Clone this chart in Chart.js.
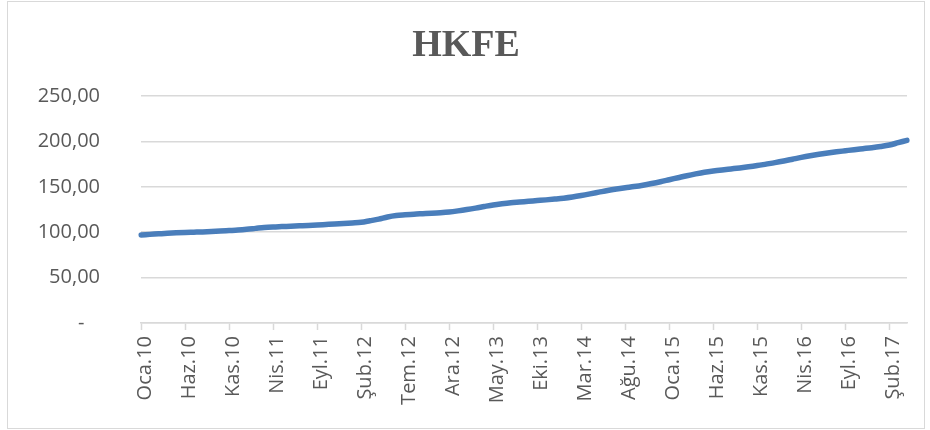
<!DOCTYPE html>
<html lang="tr">
<head>
<meta charset="UTF-8" />
<title>HKFE</title>
<style>
  body {
    margin: 0;
    background: #ffffff;
  }
  .wrap {
    position: relative;
    width: 930px;
    height: 430px;
  }
  .frame {
    position: absolute;
    left: 7px;
    top: 1px;
    width: 916px;
    height: 426px;
    border: 1px solid #d9d9d9;
    pointer-events: none;
  }
  .title {
    position: absolute;
    left: 7px;
    width: 918px;
    top: 24px;
    text-align: center;
    font-family: 'Liberation Serif', 'Times New Roman', serif;
    font-weight: bold;
    font-size: 38px;
    line-height: 1;
    color: #595959;
  }
  canvas {
    position: absolute;
    left: 0;
    top: 0;
  }
</style>
</head>
<body>

<div class="wrap">
  <canvas id="hkfe" width="930" height="430"></canvas>
  <div class="title">HKFE</div>
  <div class="frame"></div>
</div>

<script src="https://cdn.jsdelivr.net/npm/chart.js"></script>
<script>
  // monthly categories, Oca.10 .. Nis.17
  const months = [
    "Oca.10", "Şub.10", "Mar.10", "Nis.10", "May.10", "Haz.10", "Tem.10", "Ağu.10", "Eyl.10", "Eki.10", "Kas.10", "Ara.10",
    "Oca.11", "Şub.11", "Mar.11", "Nis.11", "May.11", "Haz.11", "Tem.11", "Ağu.11", "Eyl.11", "Eki.11", "Kas.11", "Ara.11",
    "Oca.12", "Şub.12", "Mar.12", "Nis.12", "May.12", "Haz.12", "Tem.12", "Ağu.12", "Eyl.12", "Eki.12", "Kas.12", "Ara.12",
    "Oca.13", "Şub.13", "Mar.13", "Nis.13", "May.13", "Haz.13", "Tem.13", "Ağu.13", "Eyl.13", "Eki.13", "Kas.13", "Ara.13",
    "Oca.14", "Şub.14", "Mar.14", "Nis.14", "May.14", "Haz.14", "Tem.14", "Ağu.14", "Eyl.14", "Eki.14", "Kas.14", "Ara.14",
    "Oca.15", "Şub.15", "Mar.15", "Nis.15", "May.15", "Haz.15", "Tem.15", "Ağu.15", "Eyl.15", "Eki.15", "Kas.15", "Ara.15",
    "Oca.16", "Şub.16", "Mar.16", "Nis.16", "May.16", "Haz.16", "Tem.16", "Ağu.16", "Eyl.16", "Eki.16", "Kas.16", "Ara.16",
    "Oca.17", "Şub.17", "Mar.17", "Nis.17"
  ];

  const hkfe = [
    97.0, 97.6, 98.2, 98.8, 99.3, 99.7, 100.0, 100.3, 100.7, 101.2, 101.8, 102.4,
    103.2, 104.2, 105.2, 105.8, 106.2, 106.6, 107.0, 107.4, 107.9, 108.5, 109.1, 109.6,
    110.2, 110.9, 112.6, 114.4, 116.8, 118.4, 119.2, 119.9, 120.4, 120.9, 121.5, 122.3,
    123.5, 124.9, 126.5, 128.3, 130.0, 131.3, 132.4, 133.2, 134.0, 134.8, 135.6, 136.5,
    137.5, 138.8, 140.4, 142.2, 144.1, 146.0, 147.6, 149.0, 150.3, 151.8, 153.6, 155.6,
    157.8, 160.0, 162.2, 164.2, 166.0, 167.4, 168.6, 169.7, 170.8, 172.0, 173.4, 175.0,
    176.6, 178.4, 180.4, 182.4, 184.2, 185.8, 187.2, 188.5, 189.7, 190.9, 192.0, 193.1,
    194.4, 196.0, 198.6, 201.2
  ];

  const yMax = 250;
  const yStep = 50;
  const labelEvery = 5;

  const grey = "#595959";
  const gridGrey = "#d9d9d9";

  function formatTick(v) {
    if (v === 0) return "-   ";
    return v.toFixed(2).replace(".", ",");
  }

  new Chart(document.getElementById("hkfe").getContext("2d"), {
    type: "line",
    data: {
      labels: months,
      datasets: [
        {
          label: "HKFE",
          data: hkfe,
          borderColor: "#4a7ebb",
          backgroundColor: "transparent",
          borderWidth: 5.5,
          borderCapStyle: "round",
          borderJoinStyle: "round",
          pointRadius: 0,
          cubicInterpolationMode: "monotone",
        },
      ],
    },
    options: {
      responsive: false,
      animation: false,
      layout: {
        padding: { left: 0, right: 23, top: 96, bottom: 0 },
      },
      plugins: {
        legend: { display: false },
        tooltip: { enabled: false },
        title: { display: false },
      },
      scales: {
        x: {
          offset: false,
          afterBuildTicks: (scale) => {
            scale.ticks = scale.ticks.filter((t) => t.value % labelEvery === 0);
          },
          afterFit: (scale) => {
            scale.height = 107;
          },
          grid: {
            drawOnChartArea: false,
            drawTicks: true,
            tickLength: 7,
            tickColor: gridGrey,
            tickWidth: 1.5,
          },
          border: { display: true, color: gridGrey, width: 1.5 },
          ticks: {
            autoSkip: false,
            maxRotation: 90,
            minRotation: 90,
            padding: 6,
            labelOffset: 4,
            color: grey,
            font: { family: "'Open Sans', sans-serif", size: 20 },
          },
        },
        y: {
          min: 0,
          max: yMax,
          afterFit: (scale) => {
            scale.width = 141;
          },
          grid: {
            color: gridGrey,
            lineWidth: 1.5,
            drawTicks: false,
          },
          border: { display: false },
          ticks: {
            stepSize: yStep,
            padding: 41,
            color: grey,
            font: { family: "'Open Sans', sans-serif", size: 20 },
            callback: (v) => formatTick(v),
          },
        },
      },
    },
  });
</script>
</body>
</html>
